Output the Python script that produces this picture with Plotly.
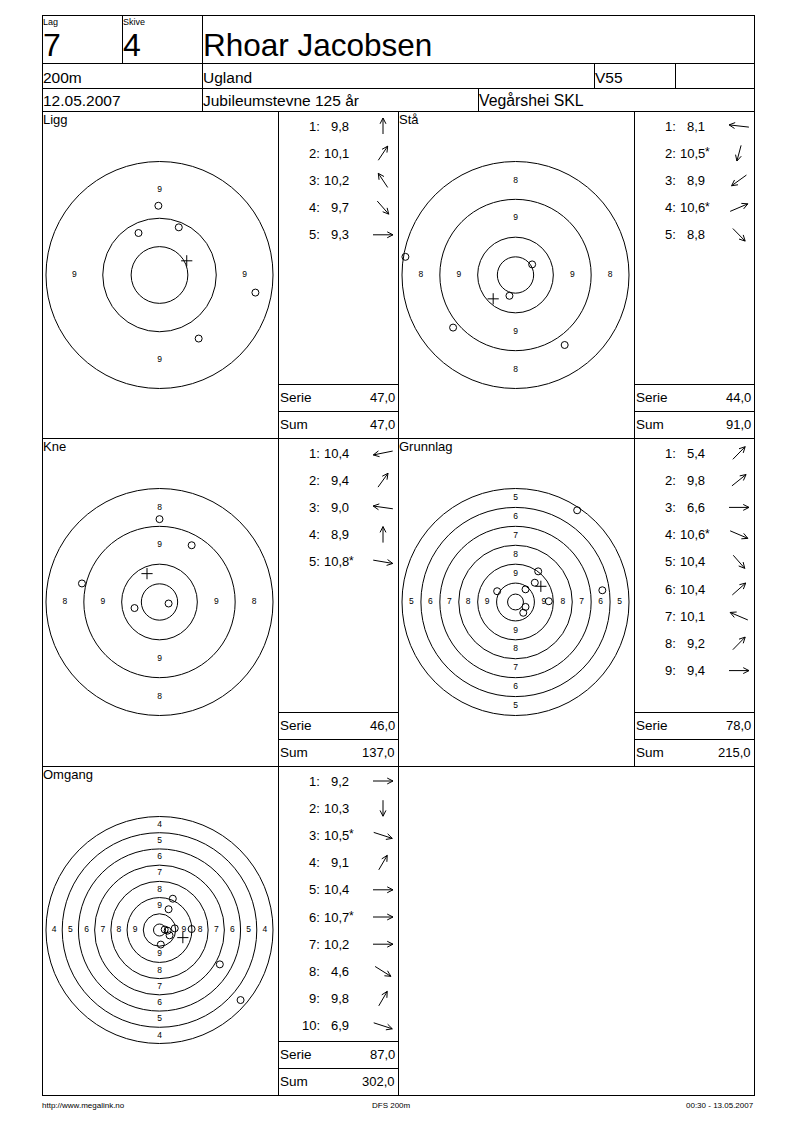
import math
import plotly.graph_objects as go

W, H = 800, 1130
FONT = "Liberation Sans, Arial, sans-serif"

# ---------------- header data ----------------
lag = "7"
skive = "4"
shooter = "Rhoar Jacobsen"
distance = "200m"
district = "Ugland"
klasse = "V55"
date = "12.05.2007"
event = "Jubileumstevne 125 år"
club = "Vegårshei SKL"
footer_left = "http://www.megalink.no"
footer_mid = "DFS 200m"
footer_right = "00:30 - 13.05.2007"

# ---------------- series data ----------------
# shot coordinates in ring widths from the centre (+y = up)
names = ["Ligg", "Stå", "Kne", "Grunnlag", "Omgang"]
lowest_ring = [9, 8, 8, 5, 4]
inner_ten = [0.5, 0.48, 0.48, 0.42, 0.37]

ligg_scores = ["9,8", "10,1", "10,2", "9,7", "9,3"]
ligg_dirs = [90, 62, 118, -55, 0]
ligg_x = [-0.02, 0.34, -0.37, 0.69, 1.69]
ligg_y = [1.22, 0.84, 0.74, -1.12, -0.31]
ligg_mean = [0.48, 0.25]

sta_scores = ["8,1", "10,5*", "8,9", "10,6*", "8,8"]
sta_dirs = [172, -102, -138, 28, -52]
sta_x = [-2.91, -0.16, -1.65, 0.44, 1.30]
sta_y = [0.48, -0.55, -1.39, 0.28, -1.85]
sta_mean = [-0.59, -0.63]

kne_scores = ["10,4", "9,4", "9,0", "8,9", "10,8*"]
kne_dirs = [194, 60, 170, 90, -12]
kne_x = [-0.66, 0.85, -2.05, 0.0, 0.24]
kne_y = [-0.16, 1.50, 0.49, 2.19, -0.04]
kne_mean = [-0.33, 0.75]

grunnlag_scores = ["5,4", "9,8", "6,6", "10,6*", "10,4", "10,4", "10,1", "9,2", "9,4"]
grunnlag_dirs = [52, 45, 0, -28, -55, 48, 152, 52, 0]
grunnlag_x = [3.26, 1.02, 4.59, 0.53, 0.41, 0.53, -0.97, 1.20, 1.76]
grunnlag_y = [4.85, 1.02, 0.62, -0.26, -0.57, 0.67, 0.57, 1.62, 0.04]
grunnlag_mean = [1.34, 0.83]

omgang_scores = ["9,2", "10,3", "10,5*", "9,1", "10,4", "10,7*", "10,2", "4,6", "9,8", "6,9"]
omgang_dirs = [0, -90, -22, 65, 0, 0, 0, -38, 65, -22]
omgang_x = [1.98, 0.08, 0.62, 0.82, 0.50, 0.32, 0.94, 5.00, 0.56, 3.72]
omgang_y = [0.06, -0.90, -0.33, 1.93, -0.04, 0.03, 0.10, -4.32, 1.28, -2.12]
omgang_mean = [1.44, -0.47]

serie_totals = ["47,0", "44,0", "46,0", "78,0", "87,0"]
sum_totals = ["47,0", "91,0", "137,0", "215,0", "302,0"]

series = [
    (ligg_scores, ligg_dirs, ligg_x, ligg_y, ligg_mean),
    (sta_scores, sta_dirs, sta_x, sta_y, sta_mean),
    (kne_scores, kne_dirs, kne_x, kne_y, kne_mean),
    (grunnlag_scores, grunnlag_dirs, grunnlag_x, grunnlag_y, grunnlag_mean),
    (omgang_scores, omgang_dirs, omgang_x, omgang_y, omgang_mean),
]

# ---------------- page layout (pixels) ----------------
panel_col = [0, 1, 0, 1, 0]
panel_row = [0, 0, 1, 1, 2]
col_x = [42, 398]
row_top = [111, 438, 766]
row_bot = [438, 766, 1095]
R_OUT = 113.5
HS = 116.0

fig = go.Figure()
shapes = []
annotations = []


def hline(y, x0, x1):
    shapes.append(dict(type="line", xref="x", yref="y", x0=x0, x1=x1, y0=y + 0.5, y1=y + 0.5,
                       line=dict(color="black", width=1)))


def vline(x, y0, y1):
    shapes.append(dict(type="line", xref="x", yref="y", x0=x + 0.5, x1=x + 0.5, y0=y0, y1=y1,
                       line=dict(color="black", width=1)))


def text(x, y, s, size, xanchor="left"):
    annotations.append(dict(x=x, y=y, xref="x", yref="y", text=s, showarrow=False,
                            xanchor=xanchor, yanchor="middle", borderpad=0, borderwidth=0,
                            font=dict(size=size, color="black", family=FONT)))


# frame
hline(15, 42, 754)
hline(1095, 42, 755)
vline(42, 15, 1095)
vline(754, 15, 1095)
for y in (63, 88, 111, 438, 766):
    hline(y, 42, 754)
vline(122, 15, 63)
vline(202, 15, 111)
vline(594, 63, 88)
vline(675, 63, 88)
vline(478, 88, 111)
vline(278, 111, 1095)
vline(398, 111, 1095)
vline(634, 111, 766)

# header text
text(43, 21.5, "Lag", 9)
text(123, 21.5, "Skive", 9)
text(43, 45, lag, 32)
text(123, 45, skive, 32)
text(203, 45, shooter, 31.5)
text(43, 77, distance, 15.5)
text(203, 77, district, 15.5)
text(595, 77, klasse, 15.5)
text(43, 100.5, date, 15.5)
text(203, 100.5, event, 15.5)
text(479, 100.5, club, 15.8)

# footer
text(42, 1105, footer_left, 8)
text(391, 1105, footer_mid, 8, "center")
text(754, 1105, footer_right, 8, "right")

arrow_x, arrow_y = [], []

for i, name in enumerate(names):
    scores, dirs, sx, sy, mean = series[i]
    cx0 = col_x[panel_col[i]]
    top = row_top[panel_row[i]]
    bot = row_bot[panel_row[i]]
    cx = cx0 + 117.5
    cy = top + 164
    sc = cx0 + 236

    # panel title
    text(cx0 + 1, top + 8.5, name, 13)

    # score table
    for j, s in enumerate(scores):
        yy = top + 15 + 27.2 * j
        star = s.endswith("*")
        val = s.rstrip("*")
        text(sc + 42, yy, f"{j + 1}:", 13, "right")
        text(sc + 71, yy, val, 13, "right")
        if star:
            text(sc + 71, yy - 1, "*", 12, "left")
        # direction arrow
        th = math.radians(dirs[j])
        ax_c, ay_c = sc + 105, yy
        hx, hy = 10 * math.cos(th), -8 * math.sin(th)
        tx, ty = ax_c - hx, ay_c - hy
        hx2, hy2 = ax_c + hx, ay_c + hy
        L = math.hypot(hx2 - tx, hy2 - ty)
        dx, dy = (hx2 - tx) / L, (hy2 - ty) / L
        arrow_x += [tx, hx2, None]
        arrow_y += [ty, hy2, None]
        for a in (math.radians(27), -math.radians(27)):
            wx = -(dx * math.cos(a) - dy * math.sin(a)) * 6.5
            wy = -(dx * math.sin(a) + dy * math.cos(a)) * 6.5
            arrow_x += [hx2, hx2 + wx, None]
            arrow_y += [hy2, hy2 + wy, None]

    hline(bot - 54, sc, sc + 120)
    hline(bot - 27, sc, sc + 120)
    text(sc + 2, bot - 40.5, "Serie", 13.5)
    text(sc + 117, bot - 40.5, serie_totals[i], 13, "right")
    text(sc + 2, bot - 13.5, "Sum", 13.5)
    text(sc + 117, bot - 13.5, sum_totals[i], 13, "right")

    # target subplot
    k = i + 2
    rmax = 11 - lowest_ring[i]
    scale = R_OUT / rmax
    rng = HS / scale
    xa, ya = f"xaxis{k}", f"yaxis{k}"
    fig.update_layout(**{
        xa: dict(domain=[(cx - HS) / W, (cx + HS) / W], range=[-rng, rng], visible=False,
                 fixedrange=True, anchor=f"y{k}"),
        ya: dict(domain=[(H - (cy + HS)) / H, (H - (cy - HS)) / H], range=[-rng, rng],
                 visible=False, fixedrange=True, anchor=f"x{k}"),
    })
    for ring in range(lowest_ring[i], 11):
        r = 11 - ring
        shapes.append(dict(type="circle", xref=f"x{k}", yref=f"y{k}", x0=-r, x1=r, y0=-r, y1=r,
                           line=dict(color="black", width=1)))
    r = inner_ten[i]
    shapes.append(dict(type="circle", xref=f"x{k}", yref=f"y{k}", x0=-r, x1=r, y0=-r, y1=r,
                       line=dict(color="black", width=1)))

    lx, ly, lt = [], [], []
    for ring in range(lowest_ring[i], 10):
        d = 10.5 - ring
        for px, py in ((0, d), (0, -d), (-d, 0), (d, 0)):
            lx.append(px)
            ly.append(py)
            lt.append(str(ring))
    fig.add_trace(go.Scatter(x=lx, y=ly, text=lt, mode="text", xaxis=f"x{k}", yaxis=f"y{k}",
                             textfont=dict(size=8.5, color="black", family=FONT),
                             hoverinfo="skip", showlegend=False))
    fig.add_trace(go.Scatter(x=sx, y=sy, mode="markers", xaxis=f"x{k}", yaxis=f"y{k}",
                             marker=dict(symbol="circle-open", size=7, color="black",
                                         line=dict(width=1, color="black")),
                             hoverinfo="skip", showlegend=False))
    fig.add_trace(go.Scatter(x=[mean[0]], y=[mean[1]], mode="markers", xaxis=f"x{k}", yaxis=f"y{k}",
                             marker=dict(symbol="cross-thin", size=8, color="black",
                                         line=dict(width=1, color="black")),
                             hoverinfo="skip", showlegend=False))

fig.add_trace(go.Scatter(x=arrow_x, y=arrow_y, mode="lines", xaxis="x", yaxis="y",
                         line=dict(color="black", width=1), hoverinfo="skip", showlegend=False))

fig.update_layout(
    width=W, height=H,
    margin=dict(l=0, r=0, t=0, b=0, pad=0),
    paper_bgcolor="white", plot_bgcolor="rgba(0,0,0,0)",
    font=dict(family=FONT, color="black"),
    xaxis=dict(domain=[0, 1], range=[0, W], visible=False, fixedrange=True),
    yaxis=dict(domain=[0, 1], range=[H, 0], visible=False, fixedrange=True),
    shapes=shapes, annotations=annotations, showlegend=False,
)

fig.write_html("out.html", config={"displayModeBar": False, "staticPlot": True},
               post_script="document.body.style.margin='0';document.body.style.overflow='hidden';")
